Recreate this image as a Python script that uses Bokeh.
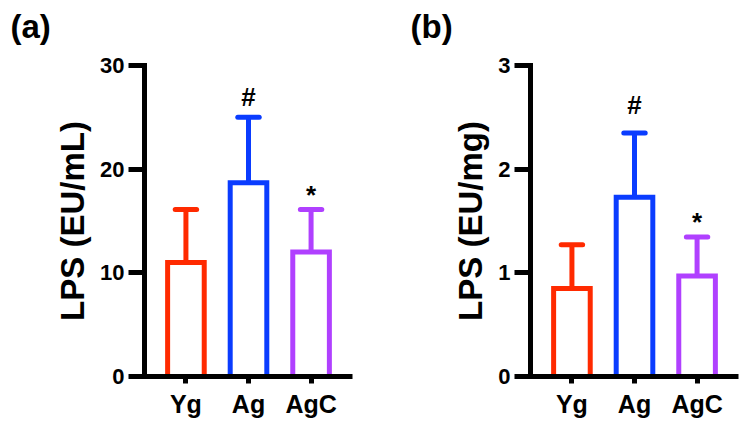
from bokeh.plotting import figure
from bokeh.models import ColumnDataSource, FactorRange, Range1d, FixedTicker, Title
from bokeh.layouts import row
from bokeh.transform import dodge
from bokeh.embed import file_html
from bokeh.resources import INLINE
from bokeh.core.properties import value

# ---------------- data ----------------
categories = ["Yg", "Ag", "AgC"]
lps_ml_mean = [11.0, 18.7, 12.0]
lps_ml_upper = [16.1, 25.0, 16.1]
lps_mg_mean = [0.85, 1.73, 0.97]
lps_mg_upper = [1.27, 2.35, 1.345]
sig_marks = ["", "#", "*"]
ticks_a = [0, 10, 20, 30]
ticks_b = [0, 1, 2, 3]

# ---------------- style ----------------
COLORS = ["#FF2A00", "#0A3CFF", "#B040FF"]
FONT = "Liberation Sans"
LW = 5


def panel(tag, ylabel, means, uppers, ticks, width, left, right, mark_offsets, tag_x):
    p = figure(width=width, height=428,
               x_range=FactorRange(*categories, range_padding=0.108),
               y_range=Range1d(ticks[0], ticks[-1]),
               output_backend="svg", toolbar_location=None,
               min_border_left=left, min_border_right=right,
               min_border_top=65, min_border_bottom=52)
    p.outline_line_color = None
    p.xgrid.visible = False
    p.ygrid.visible = False

    # blank spacer between the frame and the panel tag
    p.add_layout(Title(text=" ", text_font_size="17px", standoff=0), "above")

    p.title.text = tag
    p.title.align = "left"
    p.title.offset = tag_x
    p.title.standoff = 0
    p.title.text_font = FONT
    p.title.text_font_style = "bold"
    p.title.text_font_size = "33px"
    p.title.text_color = "#000000"

    src = ColumnDataSource(dict(cat=categories, mean=means, upper=uppers,
                                color=COLORS, mark=sig_marks, yoff=mark_offsets))

    p.vbar(x="cat", top="mean", bottom=0, width=0.585, fill_color=None,
           line_color="color", line_width=LW, line_join="miter", source=src)
    p.segment(x0="cat", y0="mean", x1="cat", y1="upper", line_color="color",
              line_width=LW, source=src)
    p.segment(x0=dodge("cat", -0.171, range=p.x_range), y0="upper",
              x1=dodge("cat", 0.171, range=p.x_range), y1="upper",
              line_color="color", line_width=LW, line_cap="round", source=src)
    p.text(x="cat", y="upper", text="mark", y_offset="yoff", source=src,
           text_align="center", text_baseline="middle",
           text_font=value(FONT), text_font_style="bold",
           text_font_size="26px", text_color="#000000")

    for ax in (p.xaxis[0], p.yaxis[0]):
        ax.axis_line_width = LW
        ax.axis_line_color = "#000000"
        ax.major_tick_line_width = LW
        ax.major_tick_line_color = "#000000"
        ax.major_tick_in = 0
        ax.minor_tick_line_color = None
        ax.major_label_text_font = FONT
        ax.major_label_text_font_style = "bold"
        ax.major_label_text_color = "#000000"

    xa = p.xaxis[0]
    xa.major_tick_out = 7
    xa.major_label_text_font_size = "25px"
    xa.major_label_standoff = 6

    ya = p.yaxis[0]
    ya.ticker = FixedTicker(ticks=ticks)
    ya.axis_line_cap = "square"
    ya.major_tick_out = 16
    ya.major_label_text_font_size = "22px"
    ya.major_label_standoff = 4
    ya.axis_label = ylabel
    ya.axis_label_text_font = FONT
    ya.axis_label_text_font_style = "bold"
    ya.axis_label_text_font_size = "33px"
    ya.axis_label_text_color = "#000000"
    ya.axis_label_standoff = 6
    return p


p1 = panel("(a)", "LPS (EU/mL)", lps_ml_mean, lps_ml_upper, ticks_a,
           378, 144, 26, [0, -20, -15], -134)
p2 = panel("(b)", "LPS (EU/mg)", lps_mg_mean, lps_mg_upper, ticks_b,
           365, 152, 5, [0, -28, -15], -120)

layout = row(p1, p2)
open("out.html", "w").write(file_html(layout, INLINE))
